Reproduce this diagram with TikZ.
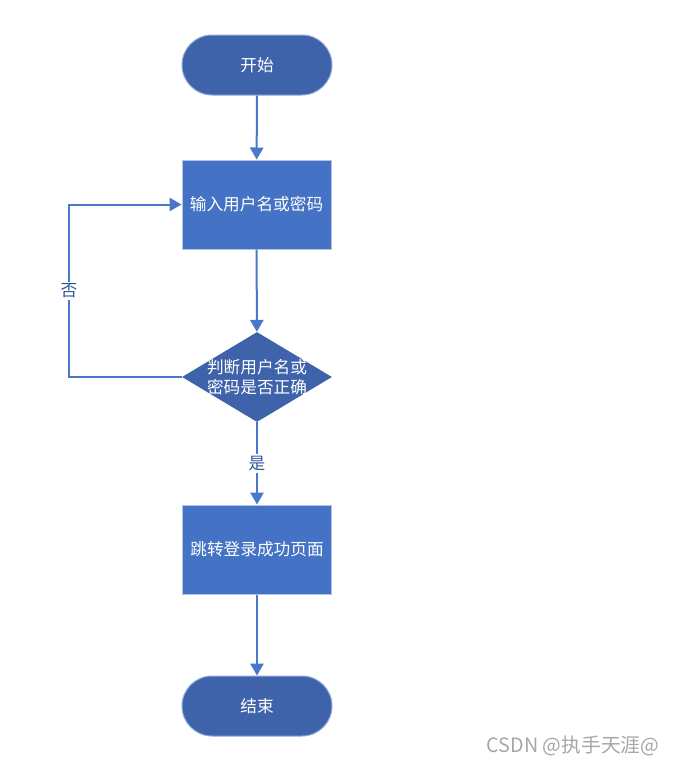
\documentclass[tikz,border=0pt]{standalone}
\usepackage{fontspec}
\setmainfont{Noto Sans CJK SC}
\usetikzlibrary{arrows.meta,shapes.geometric}

\definecolor{boxblue}{HTML}{4472C4}
\definecolor{darkblue}{HTML}{3E63AA}
\definecolor{edgeblue}{HTML}{8FAADC}
\definecolor{lineblue}{HTML}{4A78C8}
\definecolor{labelblue}{HTML}{2F5597}

\tikzstyle{terminal} = [rectangle, draw=edgeblue, fill=darkblue, text=white, line width=0.75pt,
     rounded corners=22.5pt, minimum width=112.5pt, minimum height=45pt]
\tikzstyle{block} = [rectangle, draw=edgeblue!70, fill=boxblue, text=white, line width=0.75pt,
     minimum width=111.75pt, minimum height=66.75pt]
\tikzstyle{decision} = [diamond, fill=darkblue, inner sep=0pt, aspect=1.667,
     minimum width=112.5pt, minimum height=67.5pt]
\tikzstyle{arrow} = [draw=lineblue, line width=1.5pt, -{Triangle[width=10pt,length=9pt]}]
\tikzstyle{answer} = [fill=white, text=labelblue, inner sep=1.5pt]

\begin{document}
\begin{tikzpicture}[x=0.75pt,y=-0.75pt,font=\fontsize{12.5}{15.5}\selectfont]
\useasboundingbox (0,0) rectangle (672,764);

\node[terminal](start) at (257,65) {开始};
\node[block](input) at (256.5,204.5) {输入用户名或密码};
\node[decision](check) at (257,377) {};
\node[text=white, align=center] at (check) {判断用户名或\\密码是否正确};
\node[block](success) at (257,549.5) {跳转登录成功页面};
\node[terminal](finish) at (257,706) {结束};
\coordinate(loop) at (69,377);

\node[text=gray!70, font=\fontsize{14.8}{17}\selectfont] at (573,746) {CSDN @执手天涯@};

\path[arrow] (start)--(input);
\path[arrow] (input)--(check);
\path[arrow] (check.west)--(loop) |- node[answer, pos=0.25]{否} (input.west);
\path[arrow] (check.south) -- node[answer]{是} (success.north);
\path[arrow] (success)--(finish);
\end{tikzpicture}
\end{document}
